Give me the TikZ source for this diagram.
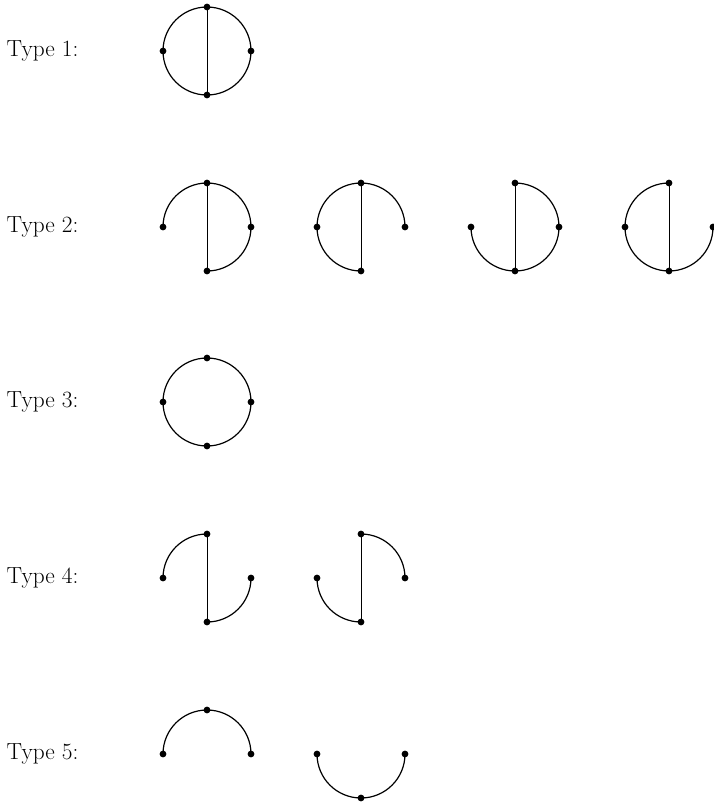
\documentclass[tikz,border=0pt]{standalone}
\begin{document}
\begin{tikzpicture}[x=1pt,y=-1pt,
  edge/.style={line width=1.2pt},
  chord/.style={line width=0.9pt},
  lbl/.style={anchor=west,inner sep=0pt,font=\fontsize{23.3}{27}\selectfont}]
\useasboundingbox (0,0) rectangle (714,804);
\def\R{44}
\def\dr{3.4}
% quarter arcs in screen terms (y axis points down)
\newcommand\qtl{\draw[edge] (0,-\R) arc[start angle=-90,end angle=-180,radius=\R];}
\newcommand\qtr{\draw[edge] (\R,0) arc[start angle=0,end angle=-90,radius=\R];}
\newcommand\qbl{\draw[edge] (-\R,0) arc[start angle=180,end angle=90,radius=\R];}
\newcommand\qbr{\draw[edge] (0,\R) arc[start angle=90,end angle=0,radius=\R];}
\newcommand\vchord{\draw[chord] (0,-\R) -- (0,\R);}
\newcommand\vT{\fill (0,-\R) circle (\dr);}
\newcommand\vB{\fill (0,\R) circle (\dr);}
\newcommand\vL{\fill (-\R,0) circle (\dr);}
\newcommand\vRt{\fill (\R,0) circle (\dr);}
% labels
\node[lbl] (l1) at (6.5,51) {Type 1:};
\node[lbl] (l2) at (6.5,227) {Type 2:};
\node[lbl] (l3) at (6.5,402) {Type 3:};
\node[lbl] (l4) at (6.5,578) {Type 4:};
\node[lbl] (l5) at (6.5,754) {Type 5:};
% Type 1
\begin{scope}[shift={(207,51)}]
\draw[edge] (0,0) circle (\R);
\vchord \vT\vB\vL\vRt
\end{scope}
% Type 2 a: missing bottom-left
\begin{scope}[shift={(207,227)}]
\qtl\qtr\qbr \vchord \vT\vB\vL\vRt
\end{scope}
% Type 2 b: missing bottom-right
\begin{scope}[shift={(361,227)}]
\qtl\qtr\qbl \vchord \vT\vB\vL\vRt
\end{scope}
% Type 2 c: missing top-left
\begin{scope}[shift={(515,227)}]
\qtr\qbl\qbr \vchord \vT\vB\vL\vRt
\end{scope}
% Type 2 d: missing top-right
\begin{scope}[shift={(669,227)}]
\qtl\qbl\qbr \vchord \vT\vB\vL\vRt
\end{scope}
% Type 3
\begin{scope}[shift={(207,402)}]
\draw[edge] (0,0) circle (\R);
\vT\vB\vL\vRt
\end{scope}
% Type 4 a
\begin{scope}[shift={(207,578)}]
\qtl\qbr \vchord \vT\vB\vL\vRt
\end{scope}
% Type 4 b
\begin{scope}[shift={(361,578)}]
\qtr\qbl \vchord \vT\vB\vL\vRt
\end{scope}
% Type 5 a
\begin{scope}[shift={(207,754)}]
\qtl\qtr \vT\vL\vRt
\end{scope}
% Type 5 b
\begin{scope}[shift={(361,754)}]
\qbl\qbr \vB\vL\vRt
\end{scope}
\end{tikzpicture}
\end{document}
